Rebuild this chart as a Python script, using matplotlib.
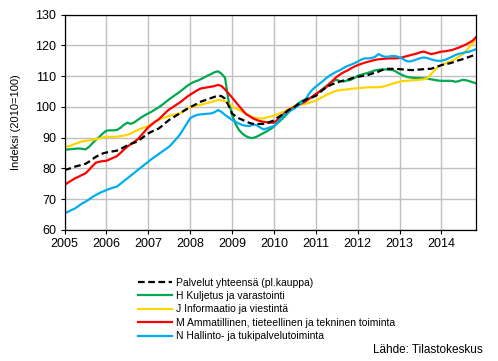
import numpy as np
import matplotlib
matplotlib.use("Agg")
import matplotlib.pyplot as plt

plt.rcParams['font.family'] = ['Liberation Sans', 'DejaVu Sans']

start_year = 2005
years = list(range(2005, 2015))
y_ticks = [60, 70, 80, 90, 100, 110, 120, 130]

labels = [
    "Palvelut yhteensä (pl.kauppa)",
    "H Kuljetus ja varastointi",
    "J Informaatio ja viestintä",
    "M Ammatillinen, tieteellinen ja tekninen toiminta",
    "N Hallinto- ja tukipalvelutoiminta",
]

palvelut = [
    79.5, 79.8, 80.2, 80.6, 80.9, 81.2, 81.5, 82.2, 83.0, 83.8, 84.4, 84.9,
    85.2, 85.4, 85.6, 85.8, 86.3, 86.9, 87.5, 88.0, 88.4, 88.8, 89.7, 90.6,
    91.4, 92.0, 92.5, 93.0, 93.9, 94.9, 95.8, 96.5, 97.2, 97.9, 98.6, 99.3,
    99.9, 100.5, 101.1, 101.7, 102.1, 102.5, 102.9, 103.3, 103.7, 103.5, 102.7, 100.5,
    97.9, 97.0, 96.3, 95.8, 95.3, 94.8, 94.5, 94.4, 94.5, 94.5, 94.7, 95.2,
    95.6, 96.5, 97.2, 97.9, 98.8, 99.5, 100.1, 100.9, 101.6, 102.3, 102.8, 103.2,
    103.6, 104.6, 105.5, 106.4, 107.0, 107.5, 107.9, 108.3, 108.6, 108.8, 109.2, 109.6,
    109.8, 110.0, 110.2, 110.4, 110.8, 111.2, 111.5, 112.0, 112.4, 112.4, 112.4, 112.4,
    112.3, 112.2, 112.1, 112.0, 112.0, 112.1, 112.2, 112.3, 112.4, 112.4, 112.8, 113.2,
    113.6, 113.9, 114.1, 114.4, 114.8, 115.2, 115.5, 115.9, 116.3, 116.7, 117.0,
]

kuljetus = [
    86.0, 86.2, 86.3, 86.4, 86.5, 86.4, 86.2, 87.0, 88.2, 89.3, 90.3, 91.4,
    92.3, 92.4, 92.4, 92.5, 93.2, 94.2, 94.9, 94.5, 95.0, 95.8, 96.6, 97.3,
    97.9, 98.5, 99.2, 99.9, 100.7, 101.6, 102.5, 103.3, 104.1, 104.9, 105.8, 106.7,
    107.5, 108.1, 108.5, 109.0, 109.6, 110.2, 110.7, 111.3, 111.6, 110.8, 109.5, 102.0,
    97.5, 94.5, 92.5, 91.3, 90.5, 90.0, 89.9, 90.3, 90.9, 91.5, 92.1, 92.8,
    93.6, 94.7, 95.7, 96.8, 98.0, 99.2, 100.3, 101.2, 101.9, 102.5, 102.8, 103.1,
    103.9, 104.9, 105.9, 106.8, 107.7, 108.5, 108.8, 108.4, 108.3, 108.6, 108.8, 109.4,
    110.1, 110.5, 110.8, 111.1, 111.5, 111.9, 112.1, 112.2, 112.2, 112.1, 112.0, 111.5,
    110.8, 110.3, 109.8, 109.6, 109.5, 109.4, 109.4, 109.3, 109.2, 109.0, 108.8, 108.6,
    108.5, 108.5, 108.5, 108.5, 108.2, 108.4, 108.8, 108.7, 108.4, 108.0, 107.7,
]

informaatio = [
    87.1, 87.2, 87.5, 88.0, 88.4, 88.8, 89.0, 89.1, 89.3, 89.5, 89.8, 90.1,
    90.3, 90.3, 90.3, 90.3, 90.5, 90.7, 90.9, 91.4, 92.0, 92.5, 93.0, 93.4,
    93.8, 94.5, 95.2, 95.8, 96.3, 96.7, 97.1, 97.4, 97.7, 97.9, 98.6, 99.3,
    99.9, 100.2, 100.5, 100.7, 101.0, 101.3, 101.6, 101.9, 102.3, 102.2, 101.8, 101.1,
    100.3, 99.6, 99.0, 98.4, 97.8, 97.2, 96.6, 96.4, 96.3, 96.3, 96.6, 96.9,
    97.1, 97.6, 98.1, 98.5, 99.2, 99.8, 100.3, 100.6, 100.8, 101.0, 101.3, 101.7,
    102.0, 102.7, 103.3, 103.9, 104.4, 104.9, 105.3, 105.5, 105.6, 105.7, 105.9, 106.0,
    106.1, 106.2, 106.3, 106.4, 106.4, 106.4, 106.4, 106.6, 106.8, 107.2, 107.6, 107.9,
    108.2, 108.4, 108.5, 108.6, 108.7, 108.8, 108.9, 109.0, 109.3, 110.6, 111.9, 113.0,
    113.6, 114.1, 114.6, 115.0, 115.6, 116.4, 117.1, 118.2, 119.5, 120.7, 122.3,
]

ammatillinen = [
    74.6, 75.4, 76.1, 76.8, 77.3, 77.9, 78.4, 79.5, 80.8, 81.9, 82.2, 82.4,
    82.5, 83.0, 83.5, 84.0, 85.0, 86.1, 87.1, 87.9, 88.7, 89.5, 90.8, 92.1,
    93.4, 94.3, 95.2, 96.0, 97.1, 98.2, 99.2, 99.9, 100.7, 101.4, 102.3, 103.2,
    104.0, 104.7, 105.4, 106.0, 106.2, 106.4, 106.6, 106.8, 107.2, 106.8, 105.7, 104.4,
    103.1, 101.7, 100.3, 99.0, 97.7, 97.0, 96.3, 95.8, 95.4, 95.2, 95.0, 94.9,
    94.9, 95.8, 96.9, 97.9, 98.9, 99.5, 100.1, 100.6, 101.2, 101.7, 102.6, 103.4,
    104.2, 105.0, 105.7, 106.4, 107.6, 108.7, 109.8, 110.6, 111.3, 111.8, 112.5, 113.1,
    113.6, 114.0, 114.4, 114.7, 115.0, 115.3, 115.5, 115.6, 115.7, 115.8, 115.8, 115.8,
    115.9, 116.2, 116.5, 116.8, 117.1, 117.4, 117.8, 118.0, 117.6, 117.2, 117.4, 117.7,
    118.0, 118.1, 118.3, 118.5, 118.9, 119.3, 119.8, 120.3, 120.9, 121.6, 122.8,
]

hallinto = [
    65.4, 65.9, 66.5, 67.0, 67.8, 68.6, 69.2, 69.9, 70.7, 71.4, 72.0, 72.5,
    73.0, 73.4, 73.8, 74.1, 75.0, 75.9, 76.8, 77.7, 78.6, 79.5, 80.4, 81.3,
    82.2, 83.1, 83.9, 84.7, 85.5, 86.3, 87.1, 88.3, 89.6, 90.9, 92.7, 94.5,
    96.3, 97.0, 97.4, 97.6, 97.7, 97.8, 97.9, 98.3, 99.0, 98.4, 97.4, 96.6,
    95.8, 95.2, 94.6, 94.1, 93.9, 93.8, 94.3, 94.1, 93.4, 92.7, 93.0, 93.4,
    93.8, 95.0, 96.2, 97.4, 98.3, 99.0, 99.6, 100.5, 101.4, 102.3, 104.2, 105.6,
    106.6, 107.5, 108.4, 109.4, 110.2, 110.9, 111.5, 112.0, 112.7, 113.3, 113.7, 114.2,
    114.7, 115.4, 115.8, 115.8, 115.9, 116.3, 117.2, 116.6, 116.3, 116.4, 116.6, 116.5,
    116.1, 115.6, 114.9, 114.8, 115.1, 115.5, 115.9, 116.1, 115.9, 115.5, 115.2, 115.0,
    115.0, 115.3, 115.8, 116.3, 116.9, 117.3, 117.5, 117.8, 118.0, 118.4, 118.8,
]

series = [palvelut, kuljetus, informaatio, ammatillinen, hallinto]
colors = ["#000000", "#00a84f", "#ffd500", "#ff0000", "#00aeef"]

n = len(palvelut)
x = start_year + np.arange(n) / 12.0

fig = plt.figure(figsize=(4.98, 3.61), dpi=100)
ax = fig.add_axes([64.5 / 498, 1 - 230 / 361, (476.3 - 64.5) / 498, (230 - 14.7) / 361])

handles = []
for i, (vals, col, lab) in enumerate(zip(series, colors, labels)):
    if i == 0:
        h, = ax.plot(x, vals, color=col, lw=1.6, linestyle=(0, (3, 1.6)), label=lab, zorder=3)
    else:
        h, = ax.plot(x, vals, color=col, lw=1.6, label=lab, zorder=2)
    handles.append(h)

ax.set_xlim(start_year, x[-1])
ax.set_ylim(60, 130)
ax.set_xticks(years)
ax.set_xticklabels([str(y) for y in years])
ax.set_yticks(y_ticks)
ax.grid(True, color="#c0c0c0", lw=1.0, zorder=0)
ax.set_axisbelow(True)
for sp in ax.spines.values():
    sp.set_color("black")
    sp.set_linewidth(0.9)
ax.tick_params(axis='both', direction='out', length=3, width=0.8, labelsize=9, pad=3, colors='black')
ax.set_ylabel("Indeksi (2010=100)", fontsize=8, labelpad=10)

fig.legend(handles=handles, labels=labels, loc='upper left',
           bbox_to_anchor=(138 / 498, 1 - 277.5 / 361), frameon=False,
           fontsize=7.5, handlelength=3.3, handletextpad=0.35,
           labelspacing=0.33, borderaxespad=0, borderpad=0)

fig.text(483 / 498, 1 - 350 / 361, "Lähde: Tilastokeskus", ha='right', va='center', fontsize=8.5)

fig.savefig("out.png", dpi=100)
